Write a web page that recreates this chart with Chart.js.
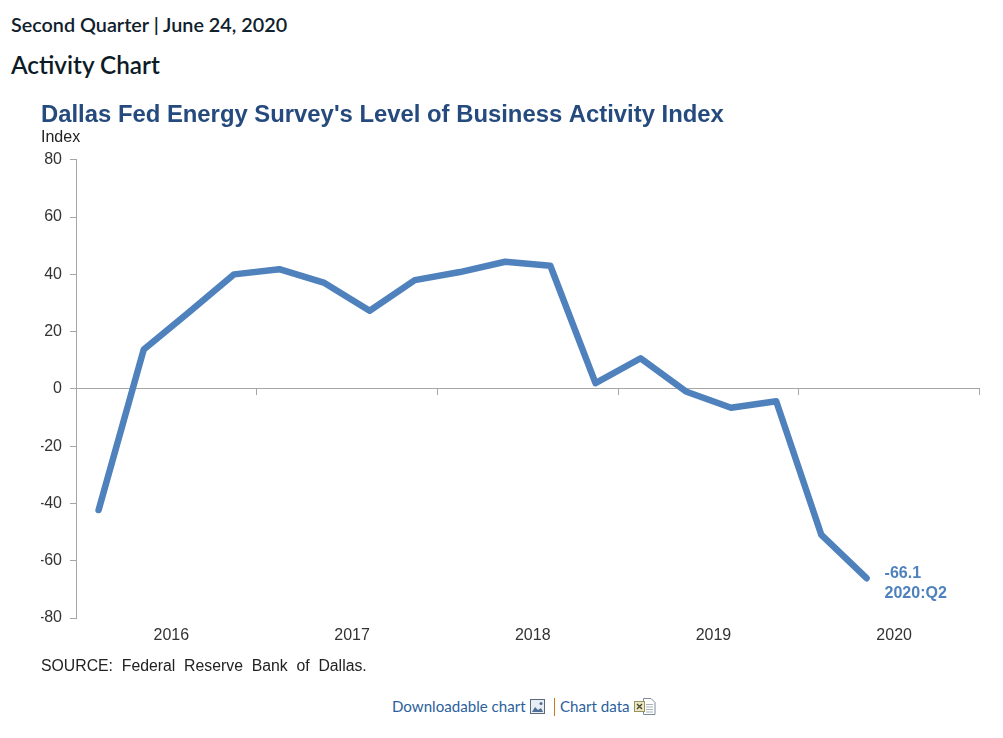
<!DOCTYPE html>
<html>
<head>
<meta charset="utf-8">
<script src="https://cdn.jsdelivr.net/npm/chart.js@4"></script>
<style>
  html, body { margin: 0; padding: 0; background: #fff; overflow: hidden; }
  body { width: 1003px; height: 738px; position: relative; font-family: Lato, sans-serif; }
  .abs { position: absolute; white-space: pre; }
  #when { left: 11px; top: 12px; font-size: 19.8px; line-height: 24px; color: #10202c; font-weight: 600; }
  #head { left: 11px; top: 50px; font-size: 24.3px; line-height: 30px; color: #0d1b26; font-weight: 600; }
  #source { left: 41px; top: 657px; font: 15.8px/18px "Liberation Sans", sans-serif; color: #222; }
  .link { top: 696px; font-size: 15.1px; line-height: 20px; color: #2b619c; }
  #bar { left: 554px; top: 698px; width: 1px; height: 18px; background: #c77b1e; }
  svg { position: absolute; }
  canvas { position: absolute; left: 0; top: 90px; }
</style>
</head>
<body>
<div class="abs" id="when">Second Quarter | June 24, 2020</div>
<div class="abs" id="head">Activity Chart</div>
<canvas id="activity" width="1003" height="570"></canvas>
<div class="abs" id="source">SOURCE:  Federal  Reserve  Bank  of  Dallas.</div>
<div class="abs link" style="left:392px">Downloadable chart</div>
<svg style="left:530px;top:699px" width="15" height="15" viewBox="0 0 15 15"><rect x="0.5" y="0.5" width="14" height="14" fill="#e8edf3" stroke="#5a6a7c"/><path d="M2 13 L5 8 L8 11 L11 9 L13 13 Z" fill="#4d6f96"/><circle cx="11" cy="4.5" r="1.5" fill="#4d6f96"/></svg>
<div id="bar" class="abs"></div>
<div class="abs link" style="left:560px">Chart data</div>
<svg style="left:634px;top:698px" width="22" height="17" viewBox="0 0 22 17"><path d="M9.5 0.5 H17 L21 4.5 V16.5 H9.5 Z" fill="#fff" stroke="#7f8c99"/><path d="M12 6.5h7M12 9h7M12 11.5h7M12 14h7" stroke="#a9b3bd"/><rect x="0.5" y="3.5" width="10" height="10" fill="#eae6c8" stroke="#99945c"/><path d="M3 6 L8 11 M8 6 L3 11" stroke="#4a4a2a" stroke-width="1.4"/></svg>

<script>
const quarters = ['2016:Q1', '2016:Q2', '2016:Q3', '2016:Q4', '2017:Q1', '2017:Q2', '2017:Q3', '2017:Q4',
  '2018:Q1', '2018:Q2', '2018:Q3', '2018:Q4', '2019:Q1', '2019:Q2', '2019:Q3', '2019:Q4', '2020:Q1', '2020:Q2',
  '2020:Q3', '2020:Q4'];
const activity = [-42.3, 13.8, 26.8, 40, 41.8, 37, 27.3, 38, 40.8, 44.4, 43, 2, 10.7, -0.9, -6.6, -4.3, -51, -66.1];
const years = ['2016', '2017', '2018', '2019', '2020'];

const axisGray = '#a6a6a6';
const tickFont = { family: 'Liberation Sans', size: 16 };

// last point note, sits right of the line end
const endNote = {
  id: 'endNote',
  afterDatasetsDraw(chart) {
    const last = chart.getDatasetMeta(0).data[activity.length - 1];
    const c = chart.ctx;
    c.save();
    c.font = 'bold 16px "Liberation Sans"';
    c.fillStyle = '#4f81bd';
    c.textBaseline = 'middle';
    c.fillText(activity[activity.length - 1].toFixed(1), last.x + 18, last.y - 5);
    c.fillText(quarters[activity.length - 1], last.x + 18, last.y + 15);
    c.restore();
  },
};

new Chart(document.getElementById('activity'), {
  type: 'line',
  data: {
    labels: quarters,
    datasets: [{
      data: activity,
      borderColor: '#4f81bd',
      borderWidth: 6.5,
      borderCapStyle: 'round',
      borderJoinStyle: 'round',
      pointRadius: 0,
      tension: 0,
    }],
  },
  options: {
    responsive: false,
    animation: false,
    layout: { padding: { left: 41, right: 23.5, top: 0, bottom: 0 } },
    plugins: {
      legend: { display: false },
      tooltip: { enabled: false },
      title: {
        display: true,
        text: "Dallas Fed Energy Survey's Level of Business Activity Index",
        align: 'start',
        color: '#254a7e',
        font: { family: 'Liberation Sans', size: 23.85, weight: 'bold' },
        padding: { top: 11, bottom: -2 },
      },
      subtitle: {
        display: true,
        text: 'Index',
        align: 'start',
        color: '#222',
        font: { family: 'Liberation Sans', size: 16, weight: 'normal' },
        padding: { top: 0, bottom: 13 },
      },
    },
    scales: {
      x: {
        type: 'category',
        offset: true,
        position: { y: 0 },
        border: { color: axisGray, width: 1 },
        grid: {
          offset: true,
          drawOnChartArea: false,
          tickLength: 6,
          tickColor: (ctx) => (ctx.index === undefined || ctx.index % 4 === 0 ? axisGray : 'transparent'),
        },
        ticks: { display: false, autoSkip: false },
      },
      xYears: {
        type: 'category',
        axis: 'x',
        position: 'bottom',
        labels: years,
        offset: true,
        border: { display: false },
        grid: { display: false },
        ticks: { color: '#333', font: tickFont, padding: 0, labelOffset: 5, maxRotation: 0 },
        afterFit(scale) { scale.height = 42; },
      },
      y: {
        min: -80,
        max: 80,
        border: { color: axisGray, width: 1 },
        grid: { drawOnChartArea: false, tickLength: 6, tickColor: axisGray },
        ticks: { stepSize: 20, color: '#333', font: tickFont, padding: 8 },
        afterFit(scale) { scale.width = 35; },
      },
    },
  },
  plugins: [endNote],
});
</script>
</body>
</html>
